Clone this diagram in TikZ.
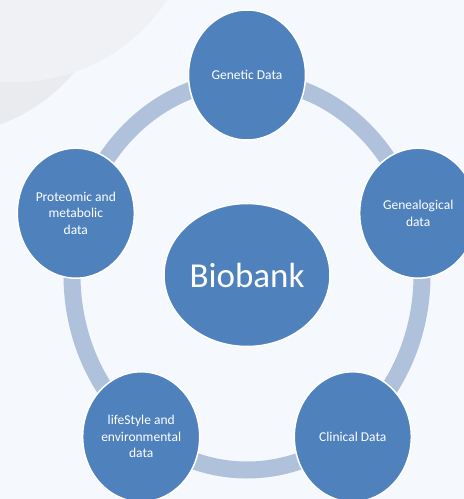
\documentclass[tikz,border=0pt]{standalone}
\usepackage{fontspec}
\setmainfont{Carlito}
\usetikzlibrary{shapes.geometric}
\definecolor{bgcolor}{HTML}{F5F8FD}
\definecolor{nodeblue}{HTML}{4F81BD}
\definecolor{ringblue}{HTML}{B0C1DC}
\definecolor{hazelow}{HTML}{EAEBEE}
\definecolor{hazetop}{HTML}{EFF1F5}

\begin{document}
\begin{tikzpicture}[x=1pt,y=-1pt,
    data/.style={ellipse,draw=white,line width=1.5pt,fill=nodeblue,text=white,
        minimum width=117pt,minimum height=130pt,inner sep=0pt,align=center,
        font=\fontsize{13.5}{16.5}\selectfont}]
\def\cx{247}
\def\cy{275}
\def\rx{180}
\def\ry{200}
\useasboundingbox (0,0) rectangle (464,499);
\clip (0,0) rectangle (464,499);
\fill[bgcolor] (0,0) rectangle (464,499);
% soft shapes in the corner
\fill[hazelow] (-60,-40) circle (175);
\fill[hazetop] (15,-100) circle (182);
% ring
\draw[ringblue, line width=17pt] (\cx,\cy) ellipse (175 and 195);
\foreach \a/\name/\txt in {90/gen/Genetic Data, 18/gnl/Genealogical\\data,
    -54/cli/Clinical Data, -126/life/lifeStyle and\\environmental\\data,
    162/prot/Proteomic and\\metabolic\\data}
    \node[data] (\name) at ({\cx+\rx*cos(\a)},{\cy-\ry*sin(\a)}) {\txt};
\node[data, minimum width=166pt, minimum height=143pt,
    font=\fontsize{35}{40}\selectfont] (bio) at (\cx,\cy) {Biobank};
\end{tikzpicture}
\end{document}
